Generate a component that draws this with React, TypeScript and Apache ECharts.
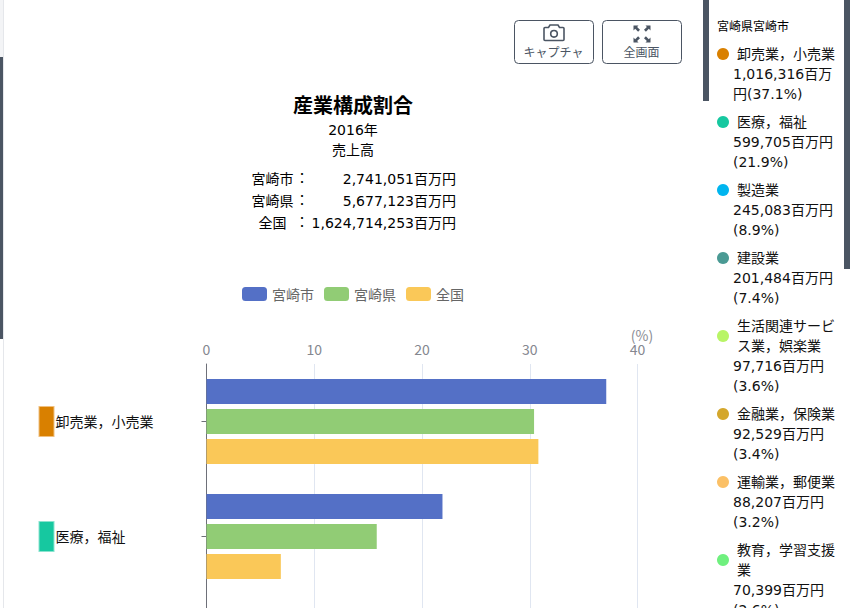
import React, { useEffect, useRef } from "react";
import * as echarts from "echarts";

const categories = ["卸売業\uFF0C小売業", "医療\uFF0C福祉", ""];
const categoryColors = ["#d98000", "#16c8a0", "#00b5ef"];
const categoryBorders = ["#f0c080", "#8ae3cf", "#80daf7"];
const seriesNames = ["宮崎市", "宮崎県", "全国"];
const cityValues = [37.1, 21.9, null];
const prefValues = [30.4, 15.8, null];
const nationValues = [30.8, 6.9, null];
const barColors = ["#5470c6", "#91cc75", "#fac858"];

const titleText = "産業構成割合";
const subLines = ["2016年", "売上高"];
const totalNames = ["宮崎市", "宮崎県", "全国"];
const totalValues = ["2,741,051百万円", "5,677,123百万円", "1,624,714,253百万円"];

const sideTitle = "宮崎県宮崎市";
const sideNames = [
  ["卸売業\uFF0C小売業"],
  ["医療\uFF0C福祉"],
  ["製造業"],
  ["建設業"],
  ["生活関連サービ", "ス業\uFF0C娯楽業"],
  ["金融業\uFF0C保険業"],
  ["運輸業\uFF0C郵便業"],
  ["教育\uFF0C学習支援", "業"],
];
const sideValues = [
  ["1,016,316百万", "円(37.1%)"],
  ["599,705百万円", "(21.9%)"],
  ["245,083百万円", "(8.9%)"],
  ["201,484百万円", "(7.4%)"],
  ["97,716百万円", "(3.6%)"],
  ["92,529百万円", "(3.4%)"],
  ["88,207百万円", "(3.2%)"],
  ["70,399百万円", "(2.6%)"],
];
const sideColors = ["#d98000", "#16c8a0", "#00b5ef", "#4a9a94", "#b8f566", "#d4a72c", "#fbc066", "#6ff07e"];

const SANS = "'DejaVu Sans','Noto Sans CJK JP',sans-serif";
const CJK = "'Noto Sans CJK JP',sans-serif";
const DARK = "#4b5563";

echarts.graphic.registerShape(
  "cameraIcon",
  echarts.graphic.extendPath(
    "M3 6h3.5l1.5-2.5h8l1.5 2.5H21a1 1 0 0 1 1 1v11a1 1 0 0 1-1 1H3a1 1 0 0 1-1-1V7a1 1 0 0 1 1-1z M12 9a3.3 3.3 0 1 0 0 6.6a3.3 3.3 0 1 0 0-6.6z",
    {}
  )
);
echarts.graphic.registerShape(
  "expandIcon",
  echarts.graphic.extendPath(
    "M0 0h5l-1.4 1.4 2.9 2.9-1.9 1.9-2.9-2.9L0 5z M17 0h-5l1.4 1.4-2.9 2.9 1.9 1.9 2.9-2.9L17 5z M0 17h5l-1.4-1.4 2.9-2.9-1.9-1.9-2.9 2.9L0 12z M17 17h-5l1.4-1.4-2.9-2.9 1.9-1.9 2.9 2.9L17 12z",
    {}
  )
);

function txt(x: number, y: number, text: string, fontSize: number, align: string, fill = "#000", extra: any = {}) {
  return {
    type: "text",
    x,
    y,
    silent: true,
    style: { text, fontSize, fontFamily: SANS, fill, align, verticalAlign: "middle", ...extra },
  };
}

function sidebar() {
  const els: any[] = [
    { type: "rect", shape: { x: 709, y: 0, width: 135, height: 608 }, style: { fill: "#fff" } },
    txt(717, 27, sideTitle, 12, "left"),
  ];
  let y = 54;
  sideNames.forEach((nameLines, i) => {
    const mid = y + ((nameLines.length - 1) * 20) / 2;
    els.push({ type: "circle", shape: { cx: 723, cy: mid, r: 6 }, style: { fill: sideColors[i] } });
    nameLines.forEach((line) => {
      els.push(txt(737, y, line, 14, "left", "#111"));
      y += 20;
    });
    sideValues[i].forEach((line) => {
      els.push(txt(733, y, line, 14, "left", "#111"));
      y += 20;
    });
    y += 8;
  });
  return els;
}

function chrome() {
  const els: any[] = [
    { type: "rect", shape: { x: 0, y: 0, width: 3, height: 57 }, style: { fill: "#f3f4f6" } },
    { type: "rect", shape: { x: 0, y: 57, width: 3, height: 282 }, style: { fill: DARK } },
    { type: "rect", shape: { x: 3, y: 0, width: 1, height: 608 }, style: { fill: "#e5e7eb" } },
    { type: "rect", shape: { x: 703, y: 0, width: 6, height: 101 }, style: { fill: DARK } },
    { type: "rect", shape: { x: 844, y: 0, width: 6, height: 269 }, style: { fill: DARK } },
  ];
  [514.5, 602.5].forEach((x) => {
    els.push({
      type: "rect",
      shape: { x, y: 20.5, width: 79, height: 43, r: 4 },
      style: { fill: "#fff", stroke: DARK, lineWidth: 1 },
    });
  });
  els.push({
    type: "cameraIcon",
    x: 542,
    y: 21.5,
    style: { fill: "none", stroke: DARK, lineWidth: 1.6 },
  });
  els.push({ type: "expandIcon", x: 633.5, y: 25.5, style: { fill: DARK } });
  els.push(txt(553.5, 53, "キャプチャ", 12, "center", DARK));
  els.push(txt(641.5, 53, "全画面", 12, "center", DARK));
  return els;
}

function header() {
  const els: any[] = [
    txt(353, 106, titleText, 20, "center", "#000", { fontWeight: "bold" }),
    txt(353, 130, subLines[0], 14, "center"),
    txt(353, 150, subLines[1], 14, "center"),
  ];
  totalNames.forEach((n, i) => {
    const y = 179 + i * 22;
    els.push(txt(272.5, y, n, 14, "center"));
    els.push(txt(302, y - 1, "\uFF1A", 14, "center"));
    els.push(txt(456, y, totalValues[i], 14, "right"));
  });
  return els;
}

export default function App() {
  const ref = useRef<HTMLDivElement>(null);
  useEffect(() => {
    document.body.style.margin = "0";
    document.body.style.overflow = "hidden";
    const chart = echarts.init(ref.current!, undefined, { renderer: "svg" });
    const rich: any = { txt: { fontSize: 14, fontFamily: CJK, color: "#111", padding: [0, 0, 2, 2] } };
    categoryColors.forEach((c, i) => {
      rich["m" + i] = {
        width: 14,
        height: 29,
        backgroundColor: c,
        borderColor: categoryBorders[i],
        borderWidth: 1,
      };
    });
    const values = [cityValues, prefValues, nationValues];
    chart.setOption({
      animation: false,
      legend: {
        data: seriesNames,
        left: 237,
        top: 282,
        itemWidth: 25,
        itemHeight: 14,
        itemGap: 10,
        textStyle: { fontSize: 14, color: "#666", fontFamily: CJK },
      },
      grid: { left: 206.5, top: 364, width: 431, height: 345, outerBoundsMode: "none" },
      xAxis: {
        type: "value",
        position: "top",
        min: 0,
        max: 40,
        interval: 10,
        name: "(%)",
        nameLocation: "end",
        nameGap: -0.5,
        nameTextStyle: {
          fontSize: 14,
          color: "#8a8c94",
          fontFamily: CJK,
          align: "center",
          verticalAlign: "bottom",
          padding: [0, 0, 22, 10],
        },
        axisLabel: { fontSize: 14, color: "#85878f", fontFamily: CJK, margin: 8 },
        axisLine: { show: false },
        axisTick: { show: false },
        splitLine: { show: true, lineStyle: { color: "#e0e6f1", width: 1 } },
      },
      yAxis: {
        type: "category",
        inverse: true,
        data: categories,
        axisLine: { show: true, lineStyle: { color: "#6e7079" } },
        axisTick: { show: true, length: 5, alignWithLabel: true, lineStyle: { color: "#6e7079" } },
        axisLabel: {
          align: "left",
          margin: 167,
          rich,
          formatter: (v: string) => (v ? `{m${categories.indexOf(v)}|}{txt|${v}}` : ""),
        },
      },
      series: seriesNames.map((name, i) => ({
        type: "bar",
        name,
        data: values[i],
        barWidth: 25,
        barGap: "20%",
        itemStyle: { color: barColors[i] },
      })),
      graphic: { elements: [...chrome(), ...header(), ...sidebar()] },
    });
    return () => chart.dispose();
  }, []);
  return <div ref={ref} style={{ width: 850, height: 608 }} />;
}
